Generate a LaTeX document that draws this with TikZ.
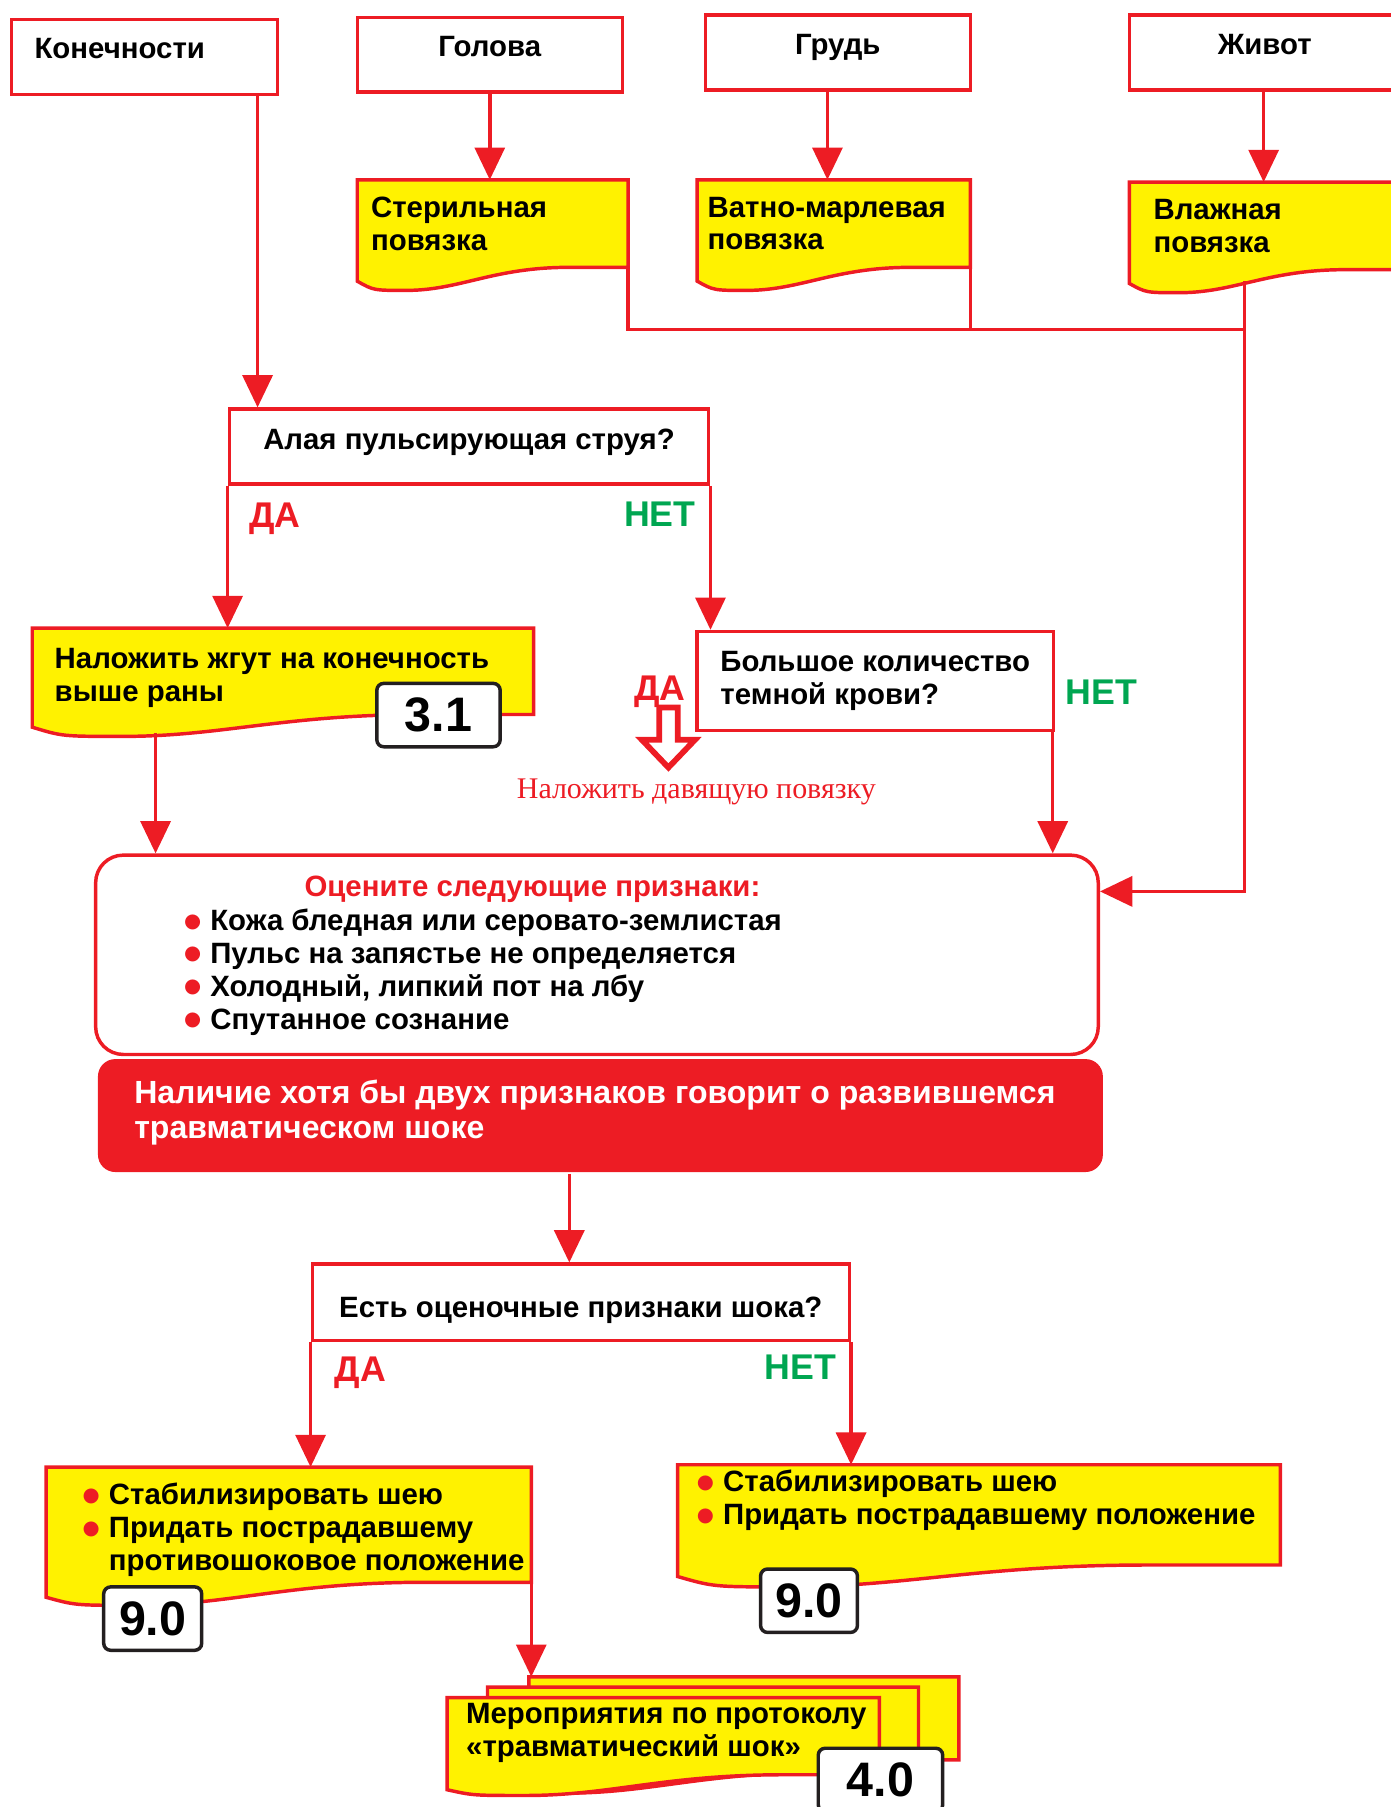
\documentclass[tikz,border=0pt]{standalone}
\usepackage{fontspec}
\setmainfont{Liberation Sans}
\newfontfamily\serifrm{Liberation Serif}
\newfontfamily\symf{DejaVu Sans}
\usetikzlibrary{arrows.meta,calc,backgrounds}

\definecolor{redl}{RGB}{237,28,36}
\definecolor{yelo}{RGB}{255,242,0}
\definecolor{gren}{RGB}{0,166,81}
\definecolor{inkk}{RGB}{35,31,32}

% red list bullet, hung left of the text
\newcommand\bul{\llap{\raisebox{3pt}{\textcolor{redl}{\symf\fontsize{17}{17}\selectfont ●}}\hspace{8pt}}}
% yellow "document" outline behind a node: node, left drop, lowest drop
\newcommand\docwave[3]{%
  \begin{scope}[on background layer]
    \filldraw[draw=redl,fill=yelo,line width=3pt] (#1.north west) -- (#1.north east) -- (#1.south east)
      -- ($(#1.south east)!0.22!(#1.south west)$)
      .. controls ($(#1.south east)!0.5!(#1.south west)$) and ($(#1.south west)!0.38!(#1.south east)+(0,#3)$)
      .. ($(#1.south west)!0.18!(#1.south east)+(0,#3)$)
      .. controls ($(#1.south west)!0.06!(#1.south east)+(0,#3)$)
      .. ($(#1.south west)+(0,#2)$) -- cycle;
  \end{scope}}

\begin{document}
\begin{tikzpicture}[x=1pt,y=-1pt,line width=3pt,
    every node/.style={font=\fontsize{25.5}{28.5}\selectfont\bfseries},
    box/.style={draw=redl,fill=white,inner sep=0pt},
    topbox/.style={box,minimum height=65pt,text height=17pt,text depth=14pt},
    docbox/.style={anchor=north west,inner sep=0pt,outer sep=0pt,align=left},
    badge/.style={draw=inkk,fill=white,rounded corners=6pt,minimum width=#1,
      minimum height=55pt,inner sep=0pt,font=\fontsize{42}{42}\selectfont\bfseries},
    yeslbl/.style={anchor=base west,inner sep=0pt,text=redl,font=\fontsize{31}{31}\selectfont\bfseries},
    nolbl/.style={yeslbl,text=gren},
    txt/.style={anchor=west,inner sep=0pt,align=left},
    link/.style={draw=redl},
    arr/.style={draw=redl,-{Triangle[width=26pt,length=28pt]}},
  ]
    \useasboundingbox (0,0) rectangle (1207,1568);
    %
    % body parts
    \node[topbox,minimum width=231pt,text width=191pt,inner xsep=20pt,align=left] (limbs) at (125.5,49.5) {Конечности};
    \node[topbox,minimum width=230pt] (head) at (425,47.5) {Голова};
    \node[topbox,minimum width=230pt] (chest) at (727,45.5) {Грудь};
    \node[topbox,minimum width=235pt] (belly) at (1097.5,45.5) {Живот};
    %
    % dressings
    \node[docbox,minimum height=76pt,text width=211pt,inner xsep=12pt] (ster) at (310,156) {Стерильная\\повязка};
    \node[docbox,minimum height=76pt,text width=219pt,inner xsep=9pt] (cotton) at (605,156) {Ватно-марлевая\\повязка};
    \node[docbox,minimum height=76pt,text width=198pt,inner xsep=21pt] (wet) at (980,158) {Влажная\\повязка};
    \docwave{ster}{12}{20}
    \docwave{cotton}{12}{20}
    \docwave{wet}{12}{20}
    %
    % bleeding
    \node[box,minimum width=416pt,minimum height=65pt,text height=17pt,text depth=12pt] (pulse) at (407,387.5) {Алая пульсирующая струя?};
    \node[docbox,minimum width=435pt,minimum height=75pt] (tourn) at (28,545) {};
    \docwave{tourn}{11}{19}
    \node[txt] (tourntxt) at (46,588) {Наложить жгут на конечность\\выше раны};
    \node[badge=107pt] (b31) at (380.5,620.5) {3.1};
    \node[box,minimum width=309pt,minimum height=86pt,align=left] (dark) at (759.5,591) {Большое количество\\темной крови?};
    %
    \node[yeslbl] (yes1) at (215,458) {ДА};
    \node[nolbl] (no1) at (540,457) {НЕТ};
    \node[yeslbl] (yes2) at (549,608) {ДА};
    \node[nolbl] (no2) at (923,611) {НЕТ};
    %
    \coordinate (pa) at (580,614);
    \draw[redl,line width=5pt,fill=white] (pa) ++(-8,0) -- ++(16,0) -- ++(0,28) -- ++(15,0)
      -- ++(-23,24) -- ++(-23,-24) -- ++(15,0) -- cycle;
    \node[txt,text=redl,font=\serifrm\fontsize{26}{26}\selectfont] (press) at (447,687) {Наложить давящую повязку};
    %
    % shock signs
    \node[box,rounded corners=24pt,minimum width=870pt,minimum height=173pt] (assess) at (518,828.5) {};
    \node[text=redl] (asshead) at (462,772) {Оцените следующие признаки:};
    \node[txt] (signs) at (181,843.5) {\bul Кожа бледная или серовато-землистая\\\bul Пульс на запястье не определяется\\\bul Холодный, липкий пот на лбу\\\bul Спутанное сознание};
    \node[fill=redl,rounded corners=15pt,minimum width=872pt,minimum height=98pt] (shock) at (521,968) {};
    \node[txt,text=white,font=\fontsize{27.8}{31}\selectfont\bfseries] (shocktxt) at (115,965.5) {Наличие хотя бы двух признаков говорит о развившемся\\травматическом шоке};
    %
    \node[box,minimum width=466pt,minimum height=66pt,text height=27pt,text depth=0pt] (question) at (504,1130) {Есть оценочные признаки шока?};
    \node[yeslbl] (yes3) at (289,1199) {ДА};
    \node[nolbl] (no3) at (662,1197) {НЕТ};
    %
    % actions
    \node[docbox,minimum width=421pt,minimum height=100pt] (leftact) at (40,1273) {};
    \docwave{leftact}{13}{20}
    \node[txt] (leftlist) at (93,1327.5) {\bul Стабилизировать шею\\\bul Придать пострадавшему\\противошоковое положение};
    \node[badge=85pt] (b90l) at (132.5,1404.5) {9.0};
    \node[docbox,minimum width=523pt,minimum height=87pt] (rightact) at (588,1271) {};
    \docwave{rightact}{10}{19}
    \node[txt] (rightlist) at (626,1302) {\bul Стабилизировать шею\\\bul Придать пострадавшему положение};
    \node[badge=84pt] (b90r) at (702,1389) {9.0};
    %
    \node[docbox,minimum width=373pt,minimum height=72pt] (back) at (459,1455) {};
    \node[docbox,minimum width=374pt,minimum height=74pt] (mid) at (423,1464) {};
    \node[docbox,minimum width=375pt,minimum height=67pt] (front) at (388,1473) {};
    \docwave{back}{12}{18}
    \docwave{mid}{12}{18}
    \docwave{front}{13}{18}
    \node[txt] (stacktxt) at (403,1504) {Мероприятия по протоколу\\«травматический шок»};
    \node[badge=108pt] (b40) at (764,1544.5) {4.0};
    %
    % connectors
    \coordinate (join) at (1080,286);
    \coordinate (limbsout) at ($(limbs.south east)+(-19,0)$);
    \coordinate (tournout) at ($(tourn.south west)+(107,16)$);
    \coordinate (evalin) at ($(assess.east)+(0,-55)$);
    \draw[arr] (head.south) -- (head.south |- ster.north);
    \draw[arr] ($(chest.south)+(-9,0)$) -- ($(chest.south |- cotton.north)+(-9,0)$);
    \draw[arr] ($(belly.south)+(-1,0)$) -- ($(belly.south |- wet.north)+(-1,0)$);
    \draw[link] (ster.south east) |- (join);
    \draw[link] (cotton.south east) -- (cotton.south east |- join);
    \draw[arr] ($(wet.south -| join)+(0,10)$) |- (evalin);
    \draw[arr] (limbsout) -- (limbsout |- pulse.north);
    \draw[arr] (pulse.south west) -- (pulse.south west |- tourn.north);
    \draw[arr] (pulse.south east) -- (pulse.south east |- dark.north);
    \draw[arr] (tournout) -- (tournout |- assess.north);
    \draw[arr] ($(dark.south east)+(-2,0)$) -- ($(dark.south east |- assess.north)+(-2,0)$);
    \draw[arr] ($(shock.south)+(-27,0)$) -- ($(question.north)+(-10,0)$);
    \draw[arr] (question.south west) -- (question.south west |- leftact.north);
    \draw[arr] (question.south east) -- (question.south east |- rightact.north);
    \draw[arr] (leftact.south east) -- (leftact.south east |- back.north);
\end{tikzpicture}
\end{document}
